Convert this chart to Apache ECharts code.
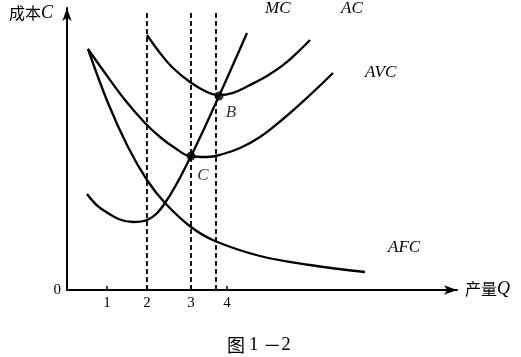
<!DOCTYPE html>
<html><head><meta charset="utf-8">
<script src="https://cdn.jsdelivr.net/npm/echarts@6/dist/echarts.min.js"></script>
<style>html,body{margin:0;padding:0;background:#fff}#c{width:521px;height:357px}</style>
</head><body><div id="c"></div>
<script>
// Curves (x = output Q, y = cost C)
const afcX = [0.525, 1.025, 1.525, 2.0, 2.45, 3.1, 3.7, 4.825, 6.075, 7.45];
const afcY = [6.025, 4.675, 3.575, 2.75, 2.175, 1.575, 1.225, 0.85, 0.625, 0.45];
const avcX = [0.525, 0.95, 1.45, 1.95, 2.325, 2.7, 3.075, 3.5, 3.9, 4.325, 4.825, 5.4, 6.075, 6.65];
const avcY = [6.025, 5.425, 4.75, 4.175, 3.825, 3.55, 3.35, 3.325, 3.4, 3.55, 3.825, 4.275, 4.875, 5.425];
const acX = [2.0, 2.325, 2.65, 3.075, 3.5, 3.8, 4.15, 4.575, 5.0, 5.4, 5.825, 6.075];
const acY = [6.375, 5.925, 5.55, 5.2, 4.95, 4.87, 4.93, 5.125, 5.35, 5.62, 6.0, 6.25];
const mcX = [0.5, 0.9, 1.65, 2.0, 2.45, 3.1, 3.8, 4.5];
const mcY = [2.4, 2.0, 1.7, 1.75, 2.175, 3.35, 4.85, 6.425];
const dashX = [2.0, 3.1, 3.725];
const dashTop = 6.925;
const pointB = [3.8, 4.85];
const pointC = [3.1, 3.35];
const tickValues = [1, 2, 3.1, 4];
const tickLabels = ['1', '2', '3', '4'];

const zip = (xs, ys) => xs.map((x, i) => [x, ys[i]]);
const serif = '"Liberation Serif", "DejaVu Serif", serif';
const cjk = '"Noto Sans CJK SC", sans-serif';
const curveStyle = { color: '#000', width: 2.3 };

const series = [];
[[afcX, afcY], [avcX, avcY], [acX, acY], [mcX, mcY]].forEach(([xs, ys]) => {
  series.push({ type: 'line', data: zip(xs, ys), symbol: 'none', smooth: 0.4,
    lineStyle: curveStyle, clip: false, silent: true });
});
dashX.forEach(x => {
  series.push({ type: 'line', data: [[x, 0], [x, dashTop]], symbol: 'none',
    lineStyle: { color: '#000', width: 1.8, type: [5, 3] }, clip: false, silent: true });
});
series.push({ type: 'scatter', data: [pointB, pointC], symbolSize: 9, clip: false,
  itemStyle: { color: '#000' },
  label: { show: true, color: '#000', fontFamily: serif, fontStyle: 'italic', fontSize: 17,
    formatter: p => p.dataIndex === 0 ? 'B' : 'C', position: 'inside' },
  labelLayout: p => p.dataIndex === 0 ? { dx: 12, dy: 17 } : { dx: 12, dy: 20 } });

const chart = echarts.init(document.getElementById('c'));
const it = (t) => ({ fontFamily: serif, fontStyle: 'italic', fontSize: 17, fill: '#000', text: t });
chart.setOption({
  animation: false,
  grid: { left: 67, right: 64, top: 8, bottom: 67 },
  xAxis: { type: 'value', min: 0, max: 9.75,
    axisLine: { show: true, symbol: ['none', 'arrow'], symbolSize: [7, 13], lineStyle: { color: '#000', width: 2 } },
    axisTick: { show: true, inside: true, length: 4, customValues: tickValues, lineStyle: { color: '#000', width: 1.5 } },
    axisLabel: { customValues: tickValues, formatter: v => tickLabels[tickValues.indexOf(v)],
      color: '#000', fontFamily: serif, fontSize: 15, margin: 6 },
    splitLine: { show: false } },
  yAxis: { type: 'value', min: 0, max: 7.05,
    axisLine: { show: true, symbol: ['none', 'arrow'], symbolSize: [7, 13], lineStyle: { color: '#000', width: 2 } },
    axisTick: { show: false },
    axisLabel: { customValues: [0], formatter: () => '0', color: '#000', fontFamily: serif, fontSize: 15, margin: 6 },
    splitLine: { show: false } },
  series: series,
  graphic: [
    { type: 'text', left: 9, top: 4, style: { text: '成本{i|C}', font: '16px ' + cjk, fill: '#000',
      rich: { i: { fontFamily: serif, fontStyle: 'italic', fontSize: 18 } } } },
    { type: 'text', left: 465, top: 280, style: { text: '产量{i|Q}', font: '16px ' + cjk, fill: '#000',
      rich: { i: { fontFamily: serif, fontStyle: 'italic', fontSize: 18 } } } },
    { type: 'text', left: 265, top: 0, style: it('MC') },
    { type: 'text', left: 341, top: 0, style: it('AC') },
    { type: 'text', left: 365, top: 64, style: it('AVC') },
    { type: 'text', left: 388, top: 239, style: it('AFC') },
    { type: 'text', left: 227, top: 336, style: { text: '图 {d|1 }－{d|2}', font: '18px ' + cjk, fill: '#000',
      rich: { d: { fontFamily: serif, fontSize: 19 } } } }
  ]
});
</script></body></html>
